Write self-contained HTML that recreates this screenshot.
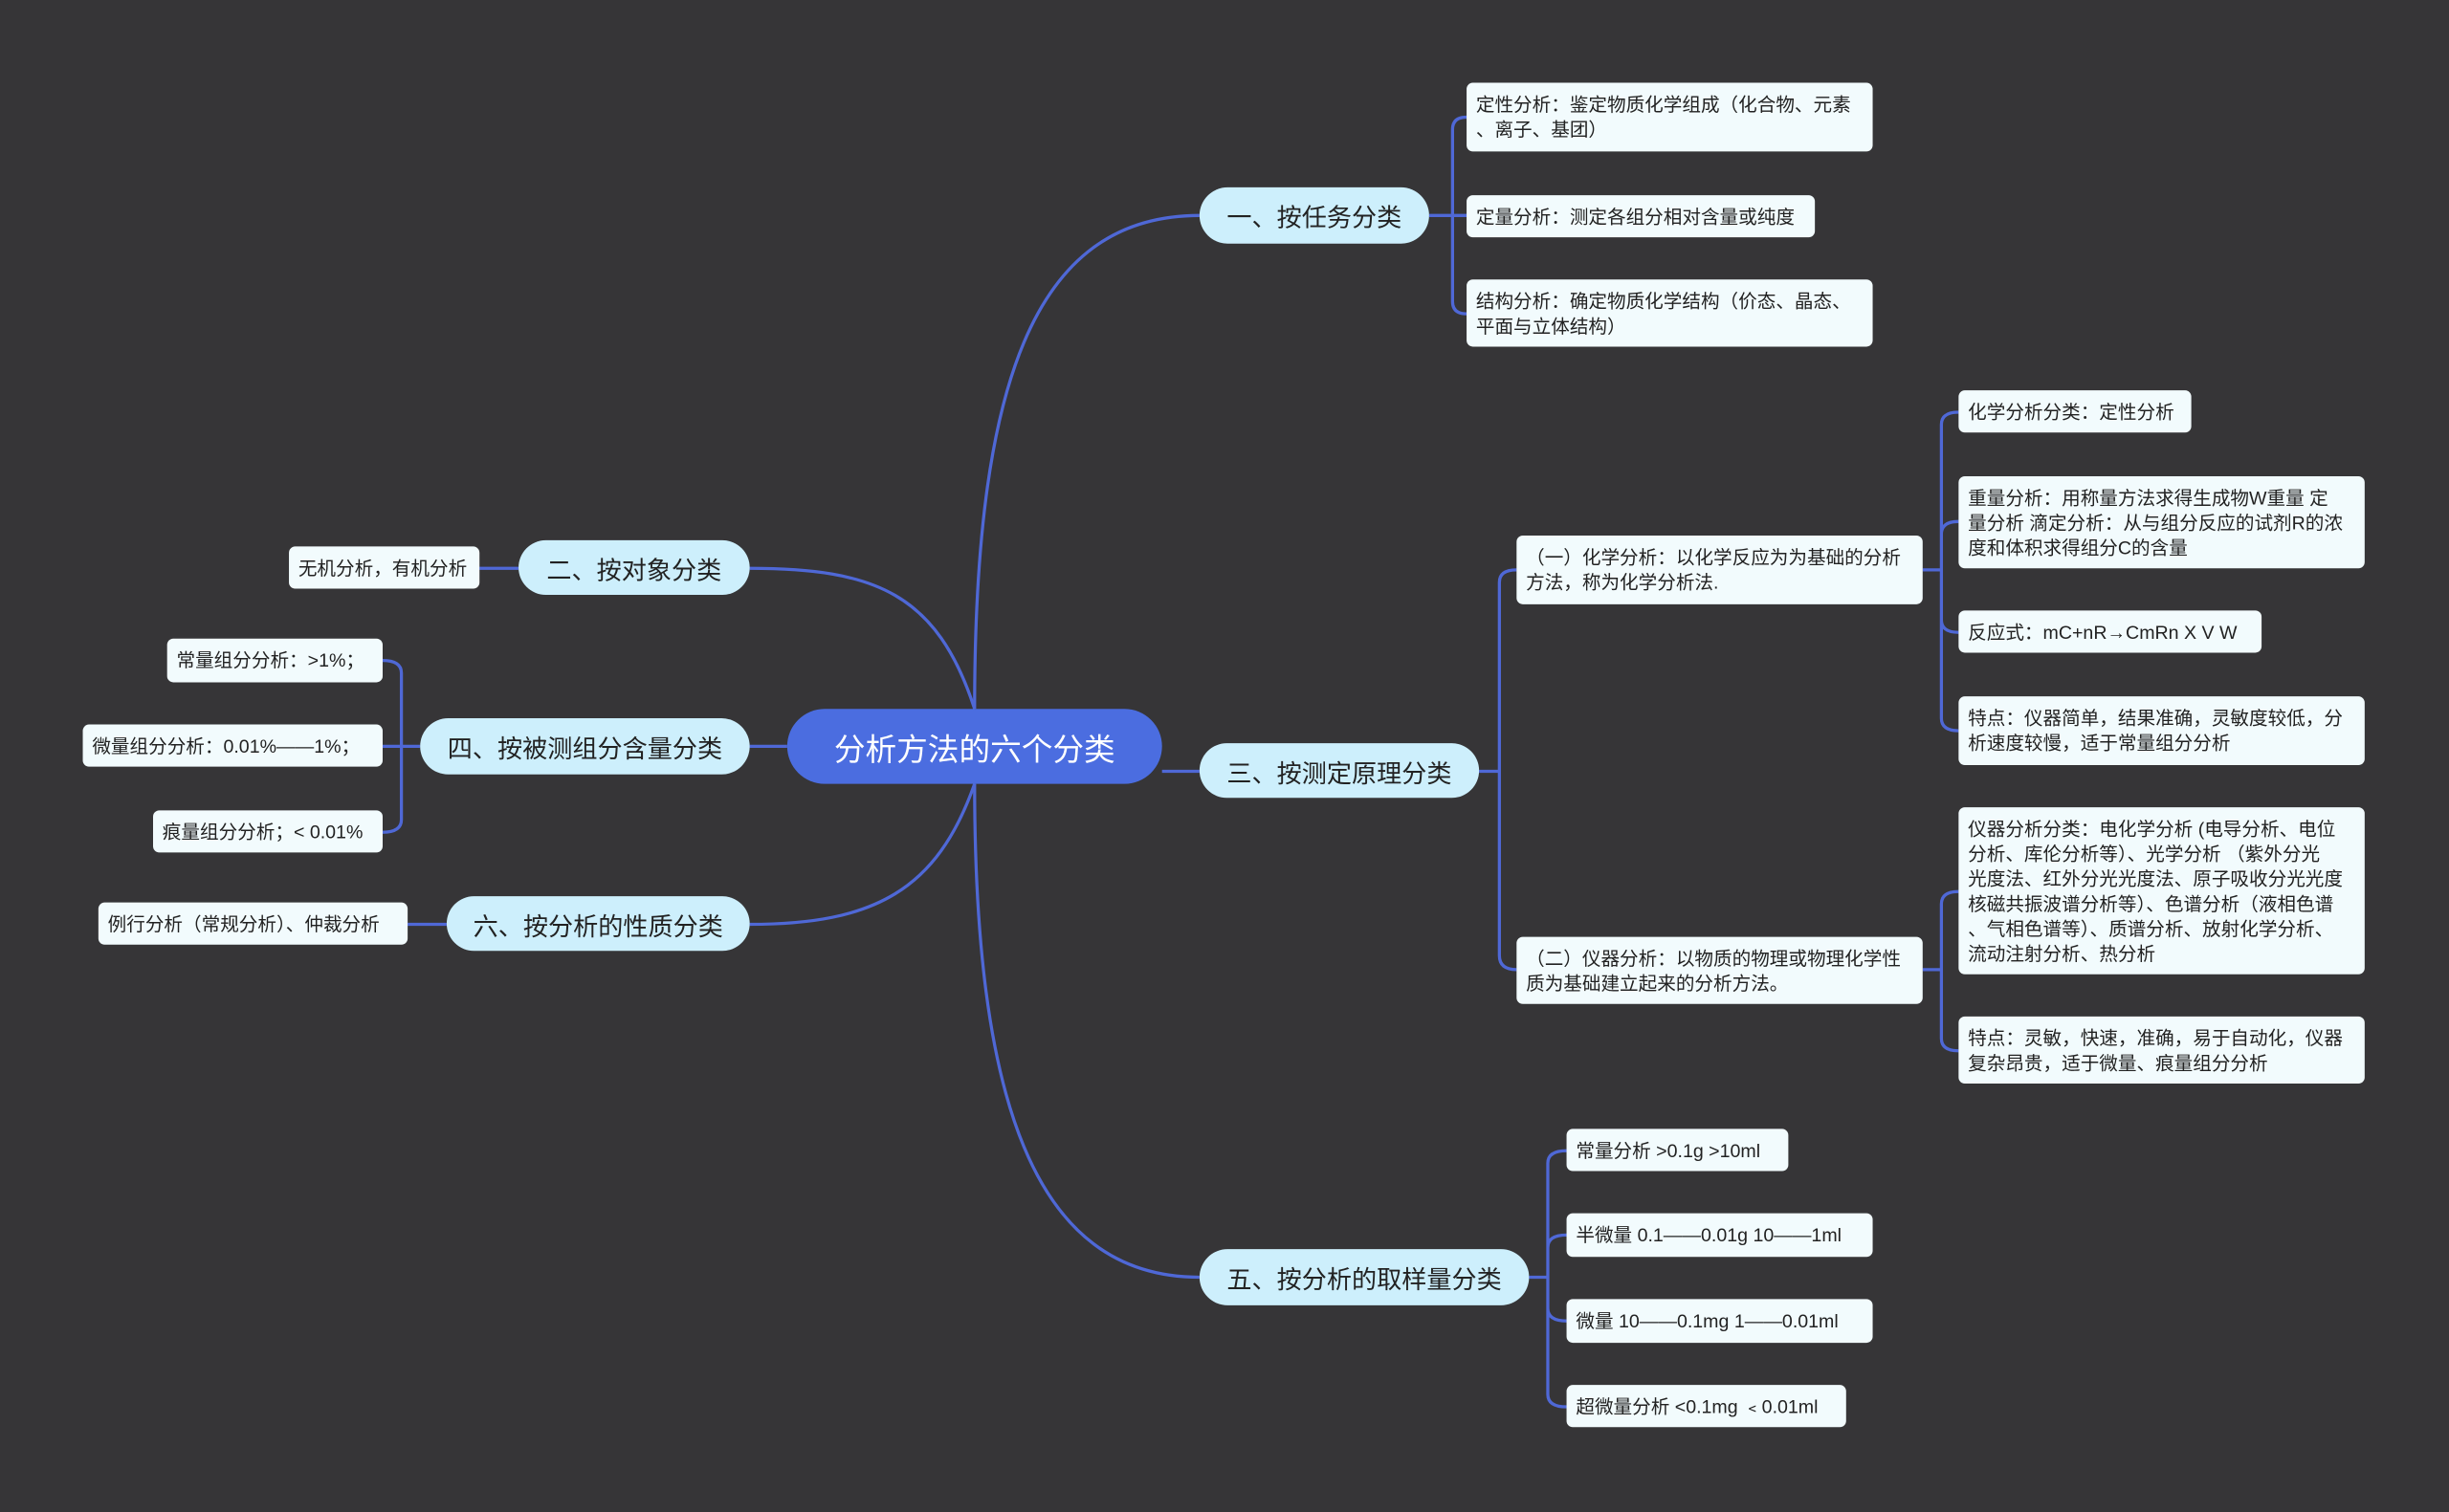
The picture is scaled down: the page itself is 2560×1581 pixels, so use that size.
<!DOCTYPE html>
<html><head><meta charset="utf-8"><style>
html,body{margin:0;padding:0;background:#363537;width:2560px;height:1581px;overflow:hidden}
#c{position:absolute;left:0;top:0;width:1568px;height:968px;transform:scale(1.632653);transform-origin:0 0;font-family:"Liberation Sans","Noto Sans CJK SC",sans-serif}
.n{position:absolute;box-sizing:border-box;display:flex;align-items:center}
.root{background:#4b6de0;color:#fff;font-size:20px;justify-content:center;border-radius:24px}
.l1{background:#cdeffc;color:#222;font-size:16px;justify-content:center;border-radius:18px}
.lf{background:#f2fbfd;color:#222;font-size:12px;line-height:16px;padding-left:6px;border-radius:4px;white-space:nowrap}
svg{position:absolute;left:0;top:0}
</style></head><body><div id="c">
<svg width="1568" height="968" fill="none" stroke="#4f68d6" stroke-width="2">
<path d="M624 454 C624 250 660 138 768 138"/>
<path d="M624 502 C624 700 660 818 768 818"/>
<path d="M744 494 L768 494"/>
<path d="M624 454 C600 380 560 364 480 364"/>
<path d="M504 478 L480 478"/>
<path d="M624 502 C600 570 560 592 480 592"/>
<!-- 一 -->
<path d="M915 138 H930 M930 83 V193 M930 83 Q930 75 939 75 M930 193 Q930 201 939 201 M930 138 H939"/>
<!-- 三 -->
<path d="M947 494 H960 M960 373 V612 M960 373 Q960 365 971 365 M960 612 Q960 621 971 621"/>
<!-- (一) -->
<path d="M1231 365 H1243 M1243 272 V460 M1243 272 Q1243 264 1254 264 M1243 342 Q1243 334 1254 334 M1243 397 Q1243 405 1254 405 M1243 460 Q1243 468 1254 468"/>
<!-- (二) -->
<path d="M1231 621 H1243 M1243 579 V665 M1243 579 Q1243 571 1254 571 M1243 665 Q1243 673 1254 673"/>
<!-- 五 -->
<path d="M979 818 H991 M991 745 V893 M991 745 Q991 737 1003 737 M991 799 Q991 791 1003 791 M991 838 Q991 846 1003 846 M991 893 Q991 901 1003 901"/>
<!-- 二 -->
<path d="M332 364 H307"/>
<!-- 四 -->
<path d="M269 478 H257 M257 431 V525 M257 431 Q257 423 245 423 M257 525 Q257 533 245 533 M257 478 H245"/>
<!-- 六 -->
<path d="M286 592 H261"/>
</svg>
<div class="n root" style="left:504px;top:454px;width:240px;height:48px">分析方法的六个分类</div>
<div class="n l1" style="left:768px;top:120px;width:147px;height:36px">一、按任务分类</div>
<div class="n l1" style="left:332px;top:346px;width:148px;height:35px">二、按对象分类</div>
<div class="n l1" style="left:269px;top:460px;width:211px;height:36px">四、按被测组分含量分类</div>
<div class="n l1" style="left:286px;top:574px;width:194px;height:35px">六、按分析的性质分类</div>
<div class="n l1" style="left:768px;top:476px;width:179px;height:35px">三、按测定原理分类</div>
<div class="n l1" style="left:768px;top:800px;width:211px;height:36px">五、按分析的取样量分类</div>

<div class="n lf" style="left:939px;top:53px;width:260px;height:44px">定性分析：鉴定物质化学组成（化合物、元素<br>、离子、基团）</div>
<div class="n lf" style="left:939px;top:125px;width:223px;height:27px">定量分析：测定各组分相对含量或纯度</div>
<div class="n lf" style="left:939px;top:179px;width:260px;height:43px">结构分析：确定物质化学结构（价态、晶态、<br>平面与立体结构）</div>
<div class="n lf" style="left:185px;top:350px;width:122px;height:27px">无机分析，有机分析</div>
<div class="n lf" style="left:107px;top:409px;width:138px;height:28px">常量组分分析：&gt;1%；</div>
<div class="n lf" style="left:53px;top:464px;width:192px;height:27px">微量组分分析：0.01%——1%；</div>
<div class="n lf" style="left:98px;top:519px;width:147px;height:27px">痕量组分分析；&lt; 0.01%</div>
<div class="n lf" style="left:63px;top:578px;width:198px;height:27px">例行分析（常规分析）、仲裁分析</div>
<div class="n lf" style="left:971px;top:343px;width:260px;height:44px">（一）化学分析：以化学反应为为基础的分析<br>方法，称为化学分析法.</div>
<div class="n lf" style="left:971px;top:600px;width:260px;height:43px">（二）仪器分析：以物质的物理或物理化学性<br>质为基础建立起来的分析方法。</div>
<div class="n lf" style="left:1254px;top:250px;width:149px;height:27px">化学分析分类：定性分析</div>
<div class="n lf" style="left:1254px;top:305px;width:260px;height:59px">重量分析：用称量方法求得生成物W重量 定<br>量分析 滴定分析：从与组分反应的试剂R的浓<br>度和体积求得组分C的含量</div>
<div class="n lf" style="left:1254px;top:391px;width:194px;height:27px">反应式：mC+nR→CmRn X V W</div>
<div class="n lf" style="left:1254px;top:446px;width:260px;height:44px">特点：仪器简单，结果准确，灵敏度较低，分<br>析速度较慢，适于常量组分分析</div>
<div class="n lf" style="left:1254px;top:517px;width:260px;height:107px">仪器分析分类：电化学分析 (电导分析、电位<br>分析、库伦分析等）、光学分析 （紫外分光<br>光度法、红外分光光度法、原子吸收分光光度<br>核磁共振波谱分析等）、色谱分析（液相色谱<br>、气相色谱等）、质谱分析、放射化学分析、<br>流动注射分析、热分析</div>
<div class="n lf" style="left:1254px;top:651px;width:260px;height:43px">特点：灵敏，快速，准确，易于自动化，仪器<br>复杂昂贵，适于微量、痕量组分分析</div>
<div class="n lf" style="left:1003px;top:723px;width:142px;height:27px">常量分析 &gt;0.1g &gt;10ml</div>
<div class="n lf" style="left:1003px;top:777px;width:196px;height:28px">半微量 0.1——0.01g 10——1ml</div>
<div class="n lf" style="left:1003px;top:832px;width:196px;height:28px">微量 10——0.1mg 1——0.01ml</div>
<div class="n lf" style="left:1003px;top:887px;width:179px;height:27px">超微量分析 &lt;0.1mg ﹤0.01ml</div>
</div></body></html>
